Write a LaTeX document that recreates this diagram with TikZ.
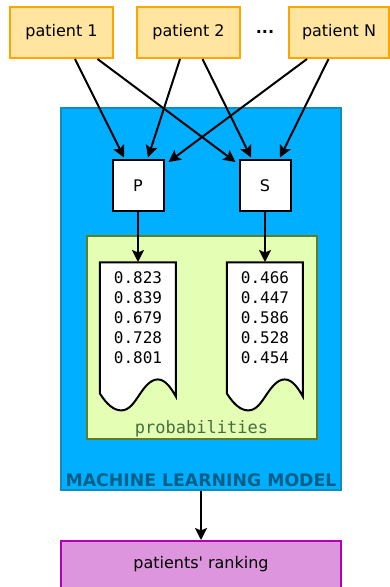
\documentclass[tikz,border=0pt]{standalone}
\usepackage{fontspec}
\setmainfont{DejaVu Sans}
\setmonofont{DejaVu Sans Mono}
\usepackage{tikz}
\usetikzlibrary{arrows.meta, positioning, calc}
\definecolor{patfill}{RGB}{255, 229, 160}
\definecolor{patline}{RGB}{255, 165, 0}
\definecolor{modelfill}{RGB}{0, 175, 255}
\definecolor{modelline}{RGB}{16, 140, 190}
\definecolor{modeltext}{RGB}{0, 95, 135}
\definecolor{probfill}{RGB}{228, 255, 180}
\definecolor{probline}{RGB}{95, 125, 35}
\definecolor{probtext}{RGB}{70, 110, 60}
\definecolor{rankfill}{RGB}{221, 150, 221}
\definecolor{rankline}{RGB}{180, 0, 180}

\begin{document}
\begin{tikzpicture}[
    x=1pt, y=-1pt,
    font=\fontsize{16}{20}\selectfont,
    patient/.style={rectangle, draw=patline, fill=patfill, line width=2pt, minimum width=103pt, minimum height=51pt},
    model/.style={rectangle, draw=modelline, fill=modelfill, line width=2pt, minimum width=280pt, minimum height=382pt},
    prob/.style={rectangle, draw=probline, fill=probfill, line width=2pt, minimum width=230pt, minimum height=203pt},
    score/.style={rectangle, draw=black, fill=white, line width=2pt, minimum width=51pt, minimum height=51pt},
    doc/.style={rectangle, inner sep=0pt, minimum width=76pt, minimum height=148pt},
    vals/.style={align=center, inner sep=0pt, font=\ttfamily\fontsize{16}{20}\selectfont},
    rank/.style={rectangle, draw=rankline, fill=rankfill, line width=2pt, minimum width=280pt, minimum height=47pt},
    arrow/.style={line width=2pt, -{Stealth[length=12pt, width=12pt, inset=2.5pt]}}
]
    \useasboundingbox (0,0) rectangle (390,587);

    \node (model) [model] at (201,299) {};
    \node (mlabel) [text=modeltext, font=\fontsize{17.3}{20}\selectfont\bfseries] at (201,480) {MACHINE LEARNING MODEL};
    \node (probs) [prob] at (201.5,337.5) {};
    \node (plabel) [text=probtext, font=\ttfamily\fontsize{17}{20}\selectfont] at (201.5,429) {probabilities};

    \node (P) [score] at (138,185.5) {P};
    \node (S) [score] at (265,185.5) {S};

    \node (doc1) [doc, anchor=north] at (138,262) {};
    \node (doc2) [doc, anchor=north] at (265,262) {};
    \foreach \d in {doc1,doc2}
        \draw[line width=2pt, fill=white, shift={(\d.south west)}]
            (0,-17) -- (0,-148) -- (76,-148) -- (76,-14)
            .. controls (72,-21) and (66,-31) .. (58,-31)
            .. controls (50,-31) and (44,-22) .. (39.5,-15.5)
            .. controls (35,-9) and (30,0) .. (21.5,0)
            .. controls (14,0) and (7,-6) .. (0,-17) -- cycle;
    \node (vals1) [vals, below=9pt of doc1.north] {0.823\\0.839\\0.679\\0.728\\0.801};
    \node (vals2) [vals, below=9pt of doc2.north] {0.466\\0.447\\0.586\\0.528\\0.454};

    \node (pat1) [patient] at (61.5,32.5) {patient 1};
    \node (pat2) [patient] at (188.5,32.5) {patient 2};
    \node (dots) at (265,32) {\textbf{...}};
    \node (patN) [patient, minimum width=100pt] at (339,32.5) {patient N};

    \node (rank) [rank] at (201,564.5) {patients\textquotesingle{} ranking};

    \draw [arrow] ($(pat1.south)+(13.5,0)$) -- ($(P.north)+(-14,-1.5)$);
    \draw [arrow] ($(pat1.south)+(36,0)$) -- ($(S.north west)+(-3,3)$);
    \draw [arrow] ($(pat2.south)+(-8.5,0)$) -- ($(P.north)+(10,-1.5)$);
    \draw [arrow] ($(pat2.south)+(14,0)$) -- ($(S.north)+(-14,-1.5)$);
    \draw [arrow] ($(patN.south)+(-32,0)$) -- ($(P.north east)+(4,3)$);
    \draw [arrow] ($(patN.south)+(-10.5,0)$) -- ($(S.north)+(15,-1.5)$);
    \draw [arrow] (P) -- (doc1);
    \draw [arrow] (S) -- (doc2);
    \draw [arrow] (model) -- (rank);
\end{tikzpicture}
\end{document}
